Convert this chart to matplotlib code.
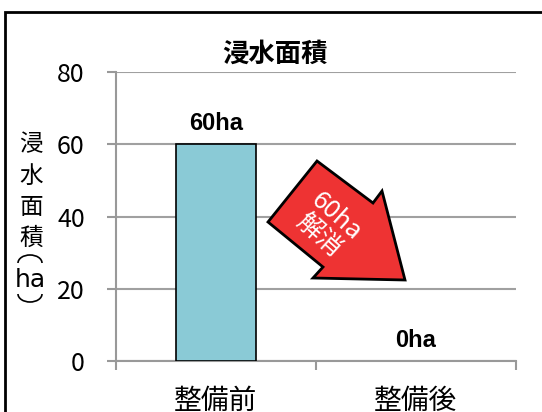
import matplotlib.pyplot as plt
from matplotlib.patches import Arc, Polygon, Rectangle

plt.rcParams['font.family'] = ['Noto Sans CJK JP', 'DejaVu Sans']

categories = ['整備前', '整備後']
area_ha = [60, 0]
bar_labels = ['60ha', '0ha']
y_ticks = [0, 20, 40, 60, 80]

W, H = 542, 412
fig = plt.figure(figsize=(W / 100, H / 100), dpi=100)


def px(x, y):
    # pixel position (from top-left) -> figure fraction
    return x / W, 1 - y / H


# outer frame, cut off at the right and bottom
fig.patches.append(Rectangle(px(5, 430), 600 / W, 418 / H, transform=fig.transFigure,
                             fill=False, edgecolor='black', linewidth=2))

ax = fig.add_axes([116 / W, 1 - 361 / H, 400 / W, 289 / H])
x = range(len(categories))
ax.bar(x, area_ha, width=0.4, color='#8ACAD6', edgecolor='black',
       linewidth=[1.2 if v > 0 else 0 for v in area_ha], zorder=3)
ax.set_xlim(-0.5, 1.5)
ax.set_ylim(0, 80)
ax.set_yticks(y_ticks)
ax.set_xticks([-0.5, 0.5, 1.5], minor=False)
ax.set_xticklabels([])
ax.set_xticks(list(x), minor=True)
ax.set_xticklabels(categories, minor=True, fontsize=20)
ax.tick_params(axis='x', which='minor', length=0, pad=18)
ax.tick_params(axis='x', which='major', length=6.5, width=1.5, color='#999999', direction='out')
ax.tick_params(axis='y', length=6.5, width=1.5, color='#999999', labelsize=18, pad=16)
ax.grid(axis='y', color='#A0A0A0', linewidth=1.5, zorder=0)
for side in ('top', 'right'):
    ax.spines[side].set_visible(False)
for side in ('left', 'bottom'):
    ax.spines[side].set_color('#999999')
    ax.spines[side].set_linewidth(1.5)

for xi, v, lab in zip(x, area_ha, bar_labels):
    ax.text(xi, v + 2.5, lab, ha='center', va='bottom', fontsize=17, fontweight='bold',
            family=['Liberation Sans Narrow', 'Liberation Sans', 'DejaVu Sans'])

fig.text(*px(275, 54), '浸水面積', ha='center', va='center', fontsize=19, fontweight='bold')

# vertical axis title, one character per line
ylabel_chars = ['浸', '水', '面', '積']
ylabel_rows = [145, 176, 207, 238]
for ch, row in zip(ylabel_chars, ylabel_rows):
    fig.text(*px(31, row), ch, ha='center', va='center', fontsize=17)
fig.text(*px(30, 280), 'ha', ha='center', va='center', fontsize=18,
         family=['Liberation Sans Narrow', 'DejaVu Sans'])
# vertical brackets around the unit
for cy, t1, t2 in [(263, 0, 180), (294, 180, 360)]:
    fig.patches.append(Arc(px(30, cy), 24 / W, 16 / H, theta1=t1, theta2=t2,
                           transform=fig.transFigure, color='black', linewidth=1.2))

# red arrow pointing down-right
arrow_pts = [(317, 161), (373, 203), (382, 191), (405, 280), (313, 278), (323, 267), (268, 222)]
fig.patches.append(Polygon([px(*p) for p in arrow_pts], closed=True, transform=fig.transFigure,
                           facecolor='#EE3333', edgecolor='black', linewidth=2, zorder=5))
fig.text(*px(327, 226), '60ha\n解消', ha='center', va='center', rotation=-42, color='white',
         fontsize=18.5, linespacing=1.0, rotation_mode='anchor', zorder=6)

fig.savefig('out.png', dpi=100)
